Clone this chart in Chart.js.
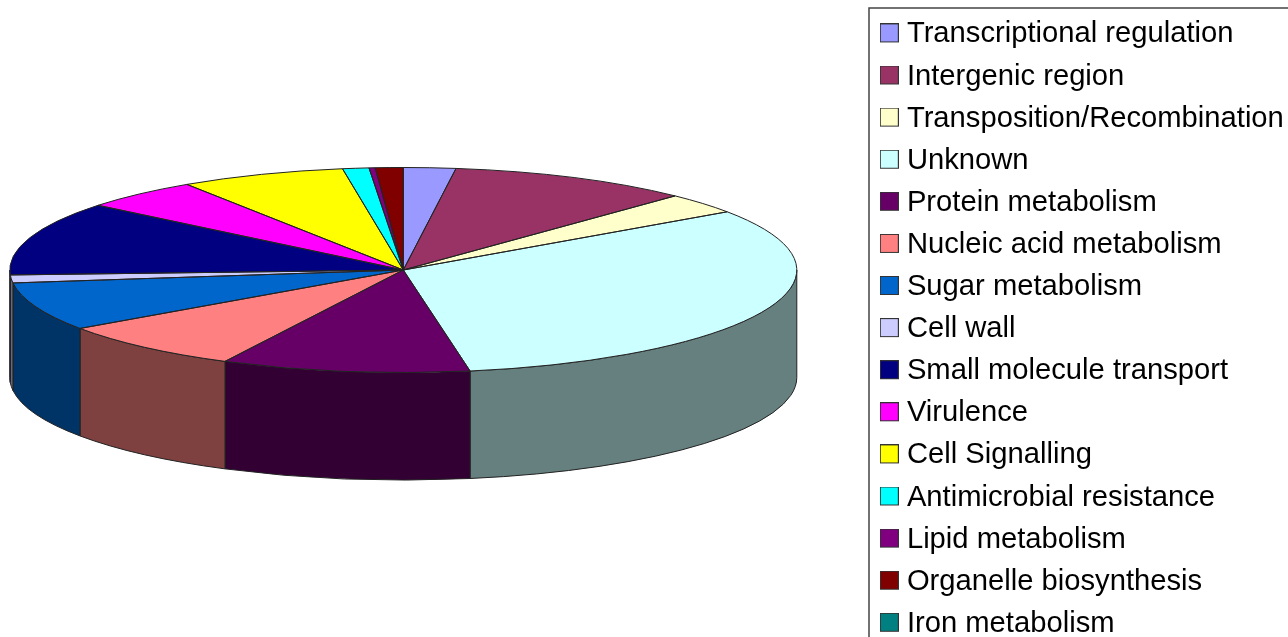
<!DOCTYPE html>
<html>
<head>
<meta charset="utf-8">
<style>
html,body{margin:0;padding:0;background:#fff;overflow:hidden;width:1288px;height:637px}
#wrap{width:1288px;height:637px;overflow:hidden;position:relative}
canvas{display:block;filter:blur(0.45px)}
</style>
<script src="https://cdn.jsdelivr.net/npm/chart.js@4/dist/chart.umd.min.js"></script>
</head>
<body>
<div id="wrap"><canvas id="c" width="1288" height="690"></canvas></div>
<script>
const categories = ["Transcriptional regulation","Intergenic region","Transposition/Recombination","Unknown","Protein metabolism","Nucleic acid metabolism","Sugar metabolism","Cell wall","Small molecule transport","Virulence","Cell Signalling","Antimicrobial resistance","Lipid metabolism","Organelle biosynthesis","Iron metabolism"];
const shares = [2.14,10,3.25,31.9,10.2,7.86,7.64,1.25,11.64,4.86,6.8,1.08,0.25,1.14,0];
const colours = ["#9999FF","#993366","#FFFFCC","#CCFFFF","#660066","#FF8080","#0066CC","#CCCCFF","#000080","#FF00FF","#FFFF00","#00FFFF","#800080","#800000","#008080"];

const centreX = 403.3, centreY = 270, radiusX = 393.5, radiusY = 102.5, depth = 107.5;
const lineColour = "#222";
const frameLeft = 869, frameTop = 8, legendLeft = 873.4, legendTop = 6.9;

function halve(hex){
  const n = parseInt(hex.slice(1),16);
  return "rgb("+((n>>16&255)>>1)+","+((n>>8&255)>>1)+","+((n&255)>>1)+")";
}
function swatch(colour){
  const s = document.createElement("canvas");
  s.width = 19; s.height = 22;
  const g = s.getContext("2d");
  g.fillStyle = colour; g.fillRect(1,1,17,17);
  g.strokeStyle = "#333"; g.lineWidth = 1; g.strokeRect(0.5,0.5,18,18);
  return s;
}
const swatches = colours.map(swatch);

const tilted = {
  id:"tilted",
  afterLayout(chart){
    chart.chartArea.left = centreX - radiusX;
    chart.chartArea.right = centreX + radiusX;
    chart.chartArea.top = centreY - radiusX;
    chart.chartArea.bottom = centreY + radiusX;
    chart.chartArea.width = radiusX*2;
    chart.chartArea.height = radiusX*2;
    chart.legend.left = legendLeft;
    chart.legend.top = legendTop;
  },
  beforeDatasetsDraw(chart){
    const ctx = chart.ctx, arcs = chart.getDatasetMeta(0).data;
    ctx.save();
    ctx.lineWidth = 1; ctx.strokeStyle = lineColour;
    arcs.forEach((a,i)=>{
      const p = a.getProps(["x","y","startAngle","endAngle","outerRadius"],true);
      const rx = p.outerRadius, ry = rx*radiusY/radiusX;
      const cx = p.x, cy = centreY;
      let s = p.startAngle, e = p.endAngle;
      const spans = [[s,e],[s-2*Math.PI,e-2*Math.PI]];
      spans.forEach(([a0,a1])=>{
        const lo = Math.max(a0,0), hi = Math.min(a1,Math.PI);
        if(hi<=lo) return;
        ctx.beginPath();
        ctx.ellipse(cx,cy,rx,ry,0,lo,hi);
        ctx.lineTo(cx+rx*Math.cos(hi),cy+ry*Math.sin(hi)+depth);
        ctx.ellipse(cx,cy+depth,rx,ry,0,hi,lo,true);
        ctx.closePath();
        ctx.fillStyle = halve(colours[i]);
        ctx.fill();
        ctx.stroke();
      });
    });
    ctx.restore();
    ctx.save();
    ctx.translate(centreX,centreY);
    ctx.scale(1,radiusY/radiusX);
    ctx.translate(-centreX,-centreY);
  },
  afterDatasetsDraw(chart){
    const ctx = chart.ctx, arcs = chart.getDatasetMeta(0).data;
    ctx.restore();
    ctx.save();
    ctx.lineWidth = 1; ctx.strokeStyle = lineColour;
    arcs.forEach(a=>{
      const p = a.getProps(["x","y","startAngle","endAngle","outerRadius"],true);
      if(p.endAngle-p.startAngle<=0) return;
      const rx = p.outerRadius, ry = rx*radiusY/radiusX;
      ctx.beginPath();
      ctx.moveTo(p.x,centreY);
      ctx.ellipse(p.x,centreY,rx,ry,0,p.startAngle,p.endAngle);
      ctx.closePath();
      ctx.stroke();
    });
    ctx.restore();
    ctx.save();
    ctx.strokeStyle = "#444"; ctx.lineWidth = 1.5;
    ctx.beginPath();
    ctx.moveTo(frameLeft,chart.height);
    ctx.lineTo(frameLeft,frameTop);
    ctx.lineTo(chart.width,frameTop);
    ctx.stroke();
    ctx.restore();
  }
};

new Chart(document.getElementById("c"),{
  type:"pie",
  data:{labels:categories,datasets:[{data:shares,backgroundColor:colours,borderWidth:0,clip:false,radius:radiusX}]},
  plugins:[tilted],
  options:{
    responsive:false,animation:false,
    events:[],
    layout:{padding:0},
    plugins:{
      tooltip:{enabled:false},
      legend:{
        position:"right",align:"start",
        labels:{
          padding:12.9,
          usePointStyle:true,pointStyleWidth:6,boxHeight:19,
          color:"#000",
          font:{family:"'Liberation Sans',Arial,sans-serif",size:29.2,lineHeight:1.2},
          generateLabels(){
            return categories.map((t,i)=>({text:t,fillStyle:colours[i],strokeStyle:"#333",lineWidth:1,pointStyle:swatches[i],hidden:false,index:i}));
          }
        }
      }
    }
  }
});
</script>
</body>
</html>
